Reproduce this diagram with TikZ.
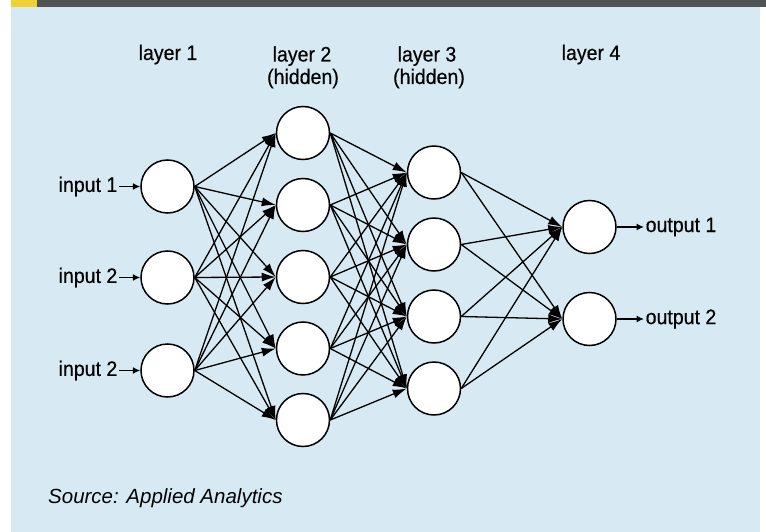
\documentclass[tikz,border=0pt]{standalone}
\usepackage{fontspec}
\setmainfont{Liberation Sans}
\newfontfamily\labfont{Liberation Sans}[FakeStretch=0.93,FakeBold=0.4]
\usetikzlibrary{arrows.meta}
\definecolor{bgblue}{RGB}{215,234,243}
\definecolor{bardark}{RGB}{80,84,85}
\definecolor{baryellow}{RGB}{240,209,53}
\tikzset{
  neuron/.style={circle,draw=black,line width=1.5pt,fill=white,minimum size=53pt,inner sep=0pt},
  link/.style={line width=1.3pt,-{Latex[length=14pt,width=9pt]}},
  iolink/.style={line width=1.3pt,-{Latex[length=7.5pt,width=7pt]}},
  lbl/.style={font=\labfont\fontsize{21}{23}\selectfont,inner sep=0pt},
  iolbl/.style={font=\labfont\fontsize{21}{23}\selectfont,inner sep=1.5pt}
}
\begin{document}
\begin{tikzpicture}[x=1pt,y=-1pt]
\useasboundingbox (0,0) rectangle (766,532);
\fill[white] (0,0) rectangle (766,532);
\fill[bgblue] (11,7) rectangle (760,532);
\fill[bardark] (11,0) rectangle (766,7);
\fill[baryellow] (11,0) rectangle (37,7);

% layer labels
\node[lbl,anchor=base] (t1) at (168,60) {layer 1};
\node[lbl,anchor=base] (t2) at (302,61.5) {layer 2};
\node[lbl,anchor=base] (t2b) at (303,84) {(hidden)};
\node[lbl,anchor=base] (t3) at (427,61.5) {layer 3};
\node[lbl,anchor=base] (t3b) at (429,84) {(hidden)};
\node[lbl,anchor=base] (t4) at (591,60) {layer 4};

% neurons
\node[neuron] (a1) at (167.5,186.5) {};
\node[neuron] (a2) at (167.5,277.5) {};
\node[neuron] (a3) at (167.5,370.5) {};
\foreach \i/\y in {1/133,2/205,3/277,4/348.5,5/420}
  \node[neuron] (b\i) at (303,\y) {};
\foreach \i/\y in {1/172.5,2/244.5,3/316.5,4/388.5}
  \node[neuron] (c\i) at (434,\y) {};
\node[neuron] (d1) at (589.5,227) {};
\node[neuron] (d2) at (589.5,319) {};

% connections
\foreach \i in {1,2,3}
  \foreach \j in {1,...,5}
    \draw[link] (a\i.east) -- (b\j.west);
\foreach \i in {1,...,5}
  \foreach \j in {1,...,4}
    \draw[link] (b\i.east) -- (c\j.west);
\foreach \i in {1,...,4}
  \foreach \j in {1,2}
    \draw[link] (c\i.east) -- (d\j.west);

% inputs
\node[iolbl,anchor=east] (in1) at (119,186.5) {input 1};
\node[iolbl,anchor=east] (in2) at (119,277.5) {input 2};
\node[iolbl,anchor=east] (in3) at (119,370.5) {input 2};
\draw[iolink] (in1.east) -- (a1.west);
\draw[iolink] (in2.east) -- (a2.west);
\draw[iolink] (in3.east) -- (a3.west);

% outputs
\node[iolbl,anchor=west] (out1) at (644,227) {output 1};
\node[iolbl,anchor=west] (out2) at (644,319) {output 2};
\draw[iolink] (d1.east) -- (out1.west);
\draw[iolink] (d2.east) -- (out2.west);

% source
\node[inner sep=0pt,anchor=base west,font=\fontsize{20.5}{22}\selectfont\itshape] (src) at (48,503) {Source: Applied Analytics};
\end{tikzpicture}
\end{document}
